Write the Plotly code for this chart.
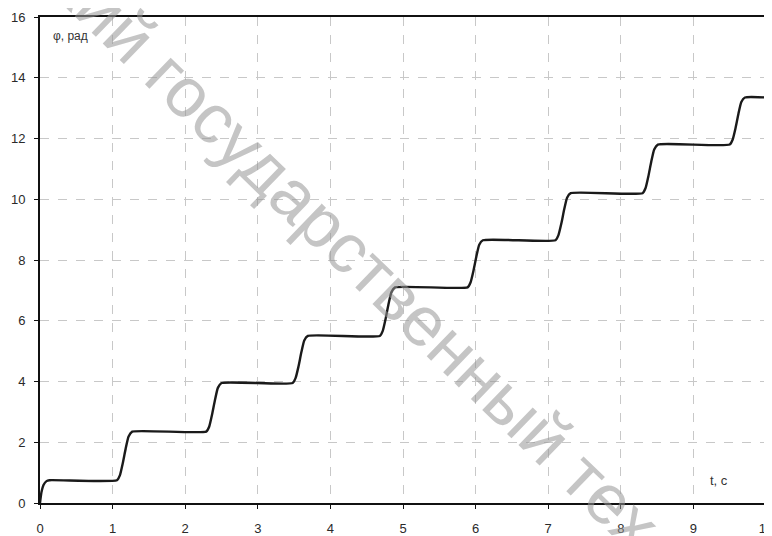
import plotly.graph_objects as go

# time, s
t = [0, 0.02, 0.05, 0.09, 0.13,
     1.06, 1.10, 1.14, 1.18, 1.22, 1.27,
     2.29, 2.33, 2.37, 2.41, 2.45, 2.50,
     3.48, 3.52, 3.56, 3.60, 3.64, 3.69,
     4.68, 4.72, 4.76, 4.80, 4.84, 4.89,
     5.89, 5.93, 5.97, 6.01, 6.05, 6.10,
     7.10, 7.14, 7.18, 7.22, 7.26, 7.31,
     8.30, 8.34, 8.38, 8.42, 8.46, 8.51,
     9.50, 9.54, 9.58, 9.62, 9.66, 9.71,
     10.0]
# angle, rad
phi = [0, 0.35, 0.60, 0.72, 0.75,
       0.75, 0.91, 1.31, 1.79, 2.19, 2.35,
       2.35, 2.51, 2.91, 3.39, 3.79, 3.95,
       3.95, 4.11, 4.49, 4.96, 5.35, 5.50,
       5.50, 5.66, 6.06, 6.54, 6.94, 7.10,
       7.10, 7.26, 7.64, 8.11, 8.50, 8.65,
       8.65, 8.81, 9.19, 9.66, 10.05, 10.20,
       10.20, 10.36, 10.76, 11.24, 11.64, 11.80,
       11.80, 11.96, 12.34, 12.81, 13.20, 13.35,
       13.35]

x_ticks = [0, 1, 2, 3, 4, 5, 6, 7, 8, 9, 10]
y_ticks = [0, 2, 4, 6, 8, 10, 12, 14, 16]

fig = go.Figure()
fig.add_trace(go.Scatter(x=t, y=phi, mode="lines",
                         line=dict(color="#1a1a1a", width=2.4, shape="spline", smoothing=0.5),
                         hoverinfo="skip", showlegend=False))

axis_common = dict(showline=True, linecolor="#111111", linewidth=2, mirror=True,
                   showgrid=True, gridcolor="#c8c8c8", griddash="dash", gridwidth=1,
                   ticks="outside", ticklen=4, tickcolor="#111111", tickwidth=1,
                   zeroline=False, automargin=False, ticklabeloverflow="allow",
                   tickfont=dict(family="Arial, Liberation Sans", size=13, color="#2a2a2a"))

fig.update_xaxes(range=[0, 10], tickvals=x_ticks, ticktext=[str(v) for v in x_ticks],
                 ticklabelstandoff=8, **axis_common)
fig.update_yaxes(range=[0, 16], tickvals=y_ticks, ticktext=[str(v) for v in y_ticks],
                 ticklabelstandoff=6, **axis_common)

fig.add_annotation(text="φ, рад", xref="paper", yref="paper", x=0.015, y=0.98,
                   xanchor="left", yanchor="top", showarrow=False,
                   font=dict(family="Arial, Liberation Sans", size=12, color="#333333"))
fig.add_annotation(text="t, с", xref="paper", yref="paper", x=0.951, y=0.047,
                   xanchor="right", yanchor="middle", showarrow=False,
                   font=dict(family="Arial, Liberation Sans", size=13, color="#333333"))

# watermark
fig.add_annotation(text="кий государственный тех", xref="paper", yref="paper",
                   x=0.437, y=0.508, xanchor="center", yanchor="middle", showarrow=False,
                   textangle=44,
                   font=dict(family="Arial, Liberation Sans", size=70, color="rgba(150,150,150,0.55)"))

# page body has an 8px default margin: size and margins compensate so the
# plot area lands at x 40..766, y 17..503 in the 772x536 window
fig.update_layout(width=764, height=528, margin=dict(l=32, r=6, t=9, b=33),
                  paper_bgcolor="white", plot_bgcolor="white")

fig.write_html("out.html")
